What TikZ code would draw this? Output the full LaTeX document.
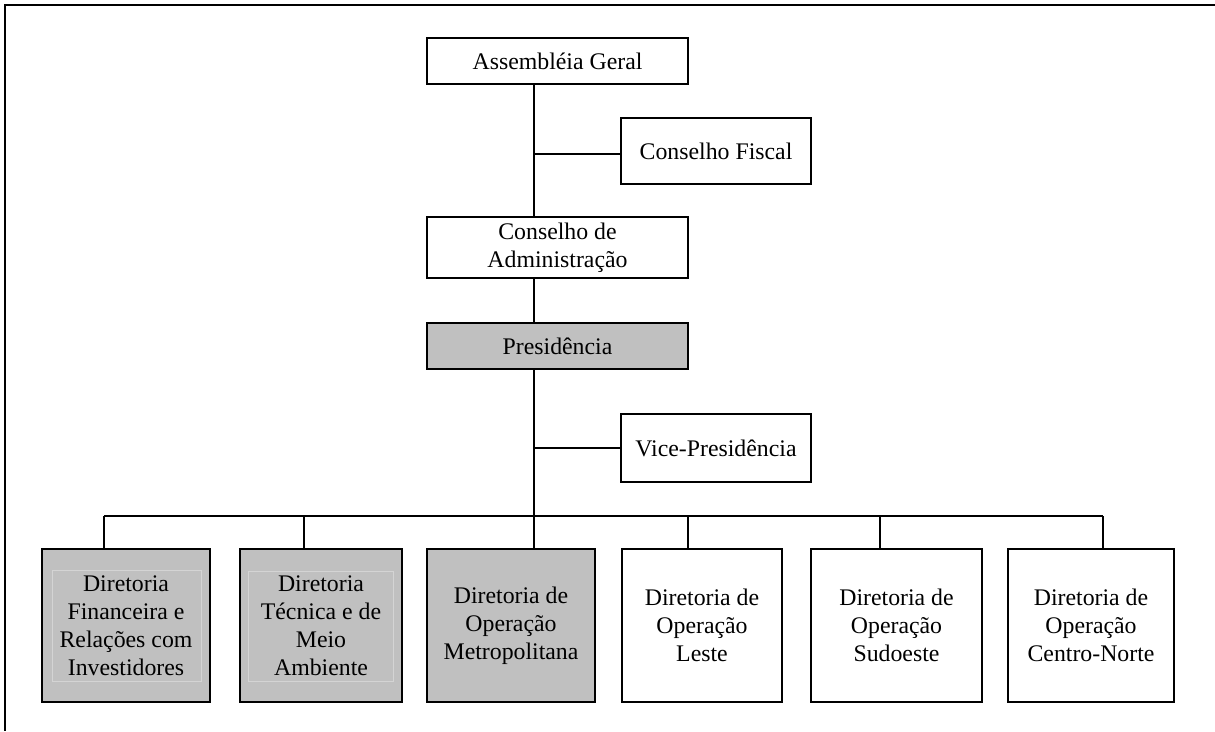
\documentclass[tikz,border=0pt]{standalone}
\usepackage{fontspec}
\setmainfont{Liberation Serif}
\definecolor{shade}{RGB}{192,192,192}
\definecolor{faint}{RGB}{212,212,212}
\tikzset{
  box/.style={draw, line width=2.1pt, inner sep=0pt, align=center,
    font=\fontsize{23.8}{27.9}\selectfont, fill=white},
  grey/.style={box, fill=shade},
  link/.style={line width=1.9pt},
  frame/.style={line width=2.3pt},
  ghost/.style={draw=faint, line width=0.5pt},
  boxtext/.style={align=center, font=\fontsize{23.8}{27.9}\selectfont, inner sep=0pt}
}
\begin{document}
\begin{tikzpicture}[x=1pt,y=-1pt]
\useasboundingbox (0,0) rectangle (1215,731);
\draw[frame] (1215,5) -- (5,5) -- (5,731);

\node[box, minimum width=261pt, minimum height=46pt] (AG) at (557.5,61) {Assembléia Geral};
\node[box, minimum width=190pt, minimum height=66pt] (CF) at (716,151) {Conselho Fiscal};
\node[box, minimum width=261pt, minimum height=61pt] (CA) at (557.5,247.5) {Conselho de\\Administração};
\node[grey, minimum width=261pt, minimum height=46pt] (P) at (557.5,346) {Presidência};
\node[box, minimum width=190pt, minimum height=68pt] (V) at (716,448) {Vice-Presidência};

\node[grey, minimum width=168pt, minimum height=153pt] (B1) at (126,625.5) {};
\draw[ghost] (52,570) rectangle (201,681);
\node[boxtext] (T1) at (B1.center) {Diretoria\\Financeira e\\Relações com\\Investidores};
\node[grey, minimum width=162pt, minimum height=153pt] (B2) at (321,625.5) {};
\draw[ghost] (248,571) rectangle (393,681);
\node[boxtext] (T2) at (B2.center) {Diretoria\\Técnica e de\\Meio\\Ambiente};
\node[grey, minimum width=168pt, minimum height=153pt] (B3) at (511,625.5) {Diretoria de\\Operação\\Metropolitana};
\node[box, minimum width=160pt, minimum height=153pt] (B4) at (702,625.5) {Diretoria de\\Operação\\Leste};
\node[box, minimum width=171pt, minimum height=153pt] (B5) at (896.5,625.5) {Diretoria de\\Operação\\Sudoeste};
\node[box, minimum width=166pt, minimum height=153pt] (B6) at (1091,625.5) {Diretoria de\\Operação\\Centro-Norte};

\coordinate (spine) at (534,0);
\coordinate (jf) at (534,154);
\coordinate (d1) at (104,516);
\coordinate (d2) at (304,516);
\coordinate (d3) at (534,516);
\coordinate (d4) at (688,516);
\coordinate (d5) at (880,516);
\coordinate (d6) at (1103,516);

\draw[link] (AG.south -| spine) -- (CA.north -| spine);
\draw[link] (jf) -- (jf -| CF.west);
\draw[link] (CA.south -| spine) -- (P.north -| spine);
\draw[link] (P.south -| spine) -- (B3.north -| spine);
\draw[link] (spine |- V.west) -- (V.west);
\draw[link] (d1) -- (d6);
\draw[link] (d1) -- (d1 |- B1.north);
\draw[link] (d2) -- (d2 |- B2.north);
\draw[link] (d4) -- (d4 |- B4.north);
\draw[link] (d5) -- (d5 |- B5.north);
\draw[link] (d6) -- (d6 |- B6.north);
\end{tikzpicture}
\end{document}
